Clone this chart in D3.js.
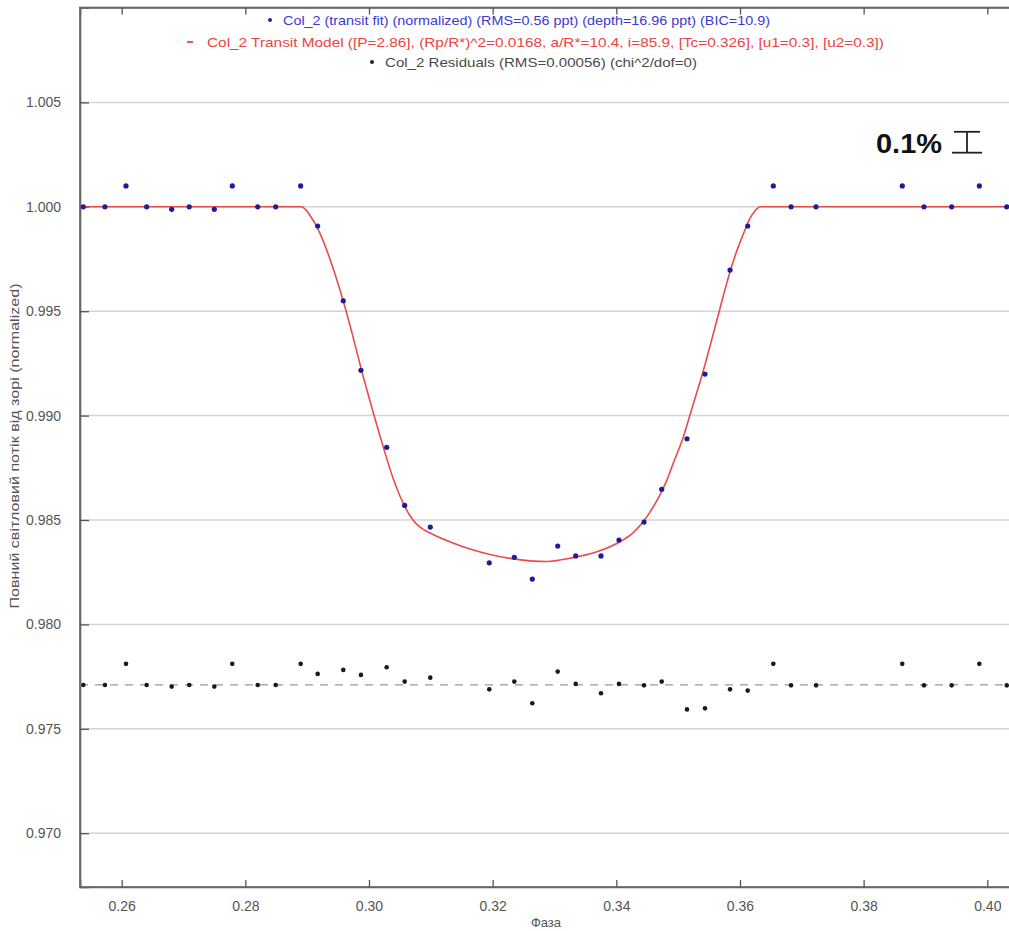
<!DOCTYPE html>
<html>
<head>
<meta charset="utf-8">
<script src="https://cdn.jsdelivr.net/npm/d3@7"></script>
<style>
  html, body { margin: 0; padding: 0; background: #fff; }
  svg { display: block; }
</style>
</head>
<body>
<svg id="chart" width="1009" height="931"></svg>
<script>
// ---------------- data ----------------
const phase = [0.25379, 0.25730, 0.26070, 0.26404, 0.26809, 0.27093, 0.27498, 0.27789, 0.28200, 0.28491,
  0.28895, 0.29170, 0.29584, 0.29870, 0.30286, 0.30577, 0.30991, 0.31945, 0.32350, 0.32641,
  0.33052, 0.33343, 0.33752, 0.34043, 0.34448, 0.34734, 0.35143, 0.35434, 0.35839, 0.36125,
  0.36539, 0.36826, 0.37230, 0.38625, 0.38976, 0.39424, 0.39871, 0.40314];
const flux = [1.0000, 1.0000, 1.0010, 1.0000, 0.99988, 1.0000, 0.99988, 1.0010, 1.0000, 1.0000,
  1.0010, 0.99908, 0.99550, 0.99217, 0.98848, 0.98570, 0.98466, 0.98295, 0.98321, 0.98217,
  0.98375, 0.98328, 0.98328, 0.98404, 0.98490, 0.98647, 0.98889, 0.99199, 0.99697, 0.99908,
  1.0010, 1.0000, 1.0000, 1.0010, 1.0000, 1.0000, 1.0010, 1.0000];
const residualPlotted = [0.97710, 0.97710, 0.97811, 0.97710, 0.97702, 0.97710, 0.97702, 0.97811, 0.97710, 0.97710,
  0.97811, 0.97763, 0.97782, 0.97758, 0.97795, 0.97726, 0.97745, 0.97689, 0.97726, 0.97622,
  0.97774, 0.97715, 0.97670, 0.97715, 0.97708, 0.97726, 0.97593, 0.97598, 0.97689, 0.97683,
  0.97811, 0.97708, 0.97708, 0.97811, 0.97708, 0.97708, 0.97811, 0.97708];
const residualBaseline = 0.97710;

const modelPhase = [0.25326, 0.28900, 0.28981, 0.29062, 0.29159, 0.29272, 0.29385, 0.29579, 0.29725, 0.29870,
  0.30048, 0.30226, 0.30388, 0.30501, 0.30598, 0.30711, 0.30825, 0.31019, 0.31358, 0.31633,
  0.31957, 0.32280, 0.32604, 0.32879, 0.33251, 0.33687, 0.34059, 0.34270, 0.34431, 0.34577,
  0.34706, 0.34819, 0.34916, 0.35078, 0.35240, 0.35401, 0.35563, 0.35725, 0.35838, 0.35919,
  0.36016, 0.36113, 0.36162, 0.36243, 0.36324, 0.40367];
const modelFlux = [1.0000, 1.0000, 0.99985, 0.99951, 0.99903, 0.99827, 0.99736, 0.99554, 0.99396, 0.99228,
  0.99036, 0.98854, 0.98701, 0.98615, 0.98553, 0.98500, 0.98466, 0.98433, 0.98390, 0.98361,
  0.98335, 0.98316, 0.98304, 0.98301, 0.98317, 0.98348, 0.98396, 0.98438, 0.98490, 0.98553,
  0.98620, 0.98692, 0.98768, 0.98893, 0.99051, 0.99209, 0.99386, 0.99568, 0.99688, 0.99764,
  0.99841, 0.99913, 0.99946, 0.99980, 1.0000, 1.0000];

const xTicks = [0.26, 0.28, 0.30, 0.32, 0.34, 0.36, 0.38, 0.40];
const yTicks = [0.970, 0.975, 0.980, 0.985, 0.990, 0.995, 1.000, 1.005];
const xDomain = [0.25326, 0.40367];
const yDomain = [0.967423, 1.009545];

const legendTexts = [
  "Col_2 (transit fit) (normalized) (RMS=0.56 ppt) (depth=16.96 ppt) (BIC=10.9)",
  "Col_2 Transit Model ([P=2.86], (Rp/R*)^2=0.0168, a/R*=10.4, i=85.9, [Tc=0.326], [u1=0.3], [u2=0.3])",
  "Col_2 Residuals (RMS=0.00056) (chi^2/dof=0)"
];
const xLabel = "Фаза";
const yLabel = "Повний світловий потік від зорі (normalized)";
const scaleBarLabel = "0.1%";
const scaleBarSize = 0.001;

// ---------------- drawing ----------------
const svg = d3.select("#chart");
const pLeft = 80, pRight = 1010, pTop = 7.5, pBottom = 887;
const x = d3.scaleLinear().domain(xDomain).range([pLeft, pRight]);
const y = d3.scaleLinear().domain(yDomain).range([pBottom, pTop]);
const font = "'Liberation Sans', Arial, sans-serif";

// gridlines
svg.append("g").selectAll("line").data(yTicks).join("line")
  .attr("x1", pLeft).attr("x2", pRight)
  .attr("y1", d => y(d)).attr("y2", d => y(d))
  .attr("stroke", "#d4d4d4").attr("stroke-width", 1.5);

// frame
svg.append("rect").attr("x", pLeft).attr("y", pTop)
  .attr("width", pRight - pLeft).attr("height", pBottom - pTop)
  .attr("fill", "none").attr("stroke", "#666").attr("stroke-width", 1.6);

// axes (ticks inward)
const xAxis = d3.axisBottom(x).tickValues(xTicks).tickSize(-7).tickPadding(14).tickFormat(d3.format(".2f"));
const gx = svg.append("g").attr("transform", `translate(0,${pBottom})`).call(xAxis);
const xTopAxis = d3.axisTop(x).tickValues(xTicks).tickSize(-7).tickFormat("");
const gxt = svg.append("g").attr("transform", `translate(0,${pTop})`).call(xTopAxis);
const yAxis = d3.axisLeft(y).tickValues(yTicks).tickSize(-9).tickPadding(19).tickFormat(d3.format(".3f"));
const gy = svg.append("g").attr("transform", `translate(${pLeft},0)`).call(yAxis);
[gx, gxt, gy].forEach(g => {
  g.select(".domain").attr("stroke", "#666").attr("stroke-width", 1.6);
  g.selectAll(".tick line").attr("stroke", "#555").attr("stroke-width", 1.3);
  g.selectAll("text").attr("fill", "#555").style("font-family", font).style("font-size", "14px");
});

// residual baseline
svg.append("line")
  .attr("x1", pLeft).attr("x2", pRight)
  .attr("y1", y(residualBaseline)).attr("y2", y(residualBaseline))
  .attr("stroke", "#999").attr("stroke-width", 1.3).attr("stroke-dasharray", "8,7");

// model line
const model = modelPhase.map((p, i) => [p, modelFlux[i]]);
svg.append("path").datum(model)
  .attr("d", d3.line().x(d => x(d[0])).y(d => y(d[1])).curve(d3.curveMonotoneX))
  .attr("fill", "none").attr("stroke", "#ee4a4a").attr("stroke-width", 1.6);

// data points
svg.append("g").selectAll("circle").data(phase.map((p, i) => [p, flux[i]])).join("circle")
  .attr("cx", d => x(d[0])).attr("cy", d => y(d[1])).attr("r", 2.6).attr("fill", "#1c1c9c");

// residual points
svg.append("g").selectAll("circle").data(phase.map((p, i) => [p, residualPlotted[i]])).join("circle")
  .attr("cx", d => x(d[0])).attr("cy", d => y(d[1])).attr("r", 2.3).attr("fill", "#1a1a1a");

// legend
const legendColors = ["#3a3ad0", "#e84444", "#4a4a4a"];
const legendX = [283, 207, 385];
const legendW = [487, 677, 312];
const legendY = [20, 42, 62];
legendTexts.forEach((t, i) => {
  const g = svg.append("g");
  if (i === 1) {
    g.append("line").attr("x1", legendX[i] - 20).attr("x2", legendX[i] - 14)
      .attr("y1", legendY[i]).attr("y2", legendY[i]).attr("stroke", legendColors[i]).attr("stroke-width", 1.8);
  } else {
    g.append("circle").attr("cx", legendX[i] - 13).attr("cy", legendY[i]).attr("r", 2)
      .attr("fill", i === 0 ? "#2020b0" : "#222");
  }
  g.append("text").attr("x", legendX[i]).attr("y", legendY[i] + 4.5)
    .attr("textLength", legendW[i]).attr("lengthAdjust", "spacingAndGlyphs")
    .attr("fill", legendColors[i]).style("font-family", font).style("font-size", "13px")
    .text(t);
});

// axis labels
svg.append("text").attr("x", 546).attr("y", 927).attr("text-anchor", "middle")
  .attr("fill", "#555").style("font-family", font).style("font-size", "13px").text(xLabel);
svg.append("text").attr("transform", "translate(19,446) rotate(-90)").attr("text-anchor", "middle")
  .attr("textLength", 325).attr("lengthAdjust", "spacingAndGlyphs")
  .attr("fill", "#555").style("font-family", font).style("font-size", "13px").text(yLabel);

// 0.1% scale bar
svg.append("text").attr("x", 876).attr("y", 153)
  .attr("textLength", 66).attr("lengthAdjust", "spacingAndGlyphs")
  .attr("fill", "#111").style("font-family", font).style("font-size", "27px").style("font-weight", "bold")
  .text(scaleBarLabel);
const barTop = y(1.0) - 75, barBottom = barTop + (y(1.0) - y(1.0 + scaleBarSize));
const barX = 967;
const bar = svg.append("g").attr("stroke", "#222").attr("stroke-width", 1.8);
bar.append("line").attr("x1", barX - 13).attr("x2", barX + 13).attr("y1", barTop).attr("y2", barTop);
bar.append("line").attr("x1", barX).attr("x2", barX).attr("y1", barTop).attr("y2", barBottom);
bar.append("line").attr("x1", barX - 15).attr("x2", barX + 15).attr("y1", barBottom).attr("y2", barBottom);
</script>
</body>
</html>
